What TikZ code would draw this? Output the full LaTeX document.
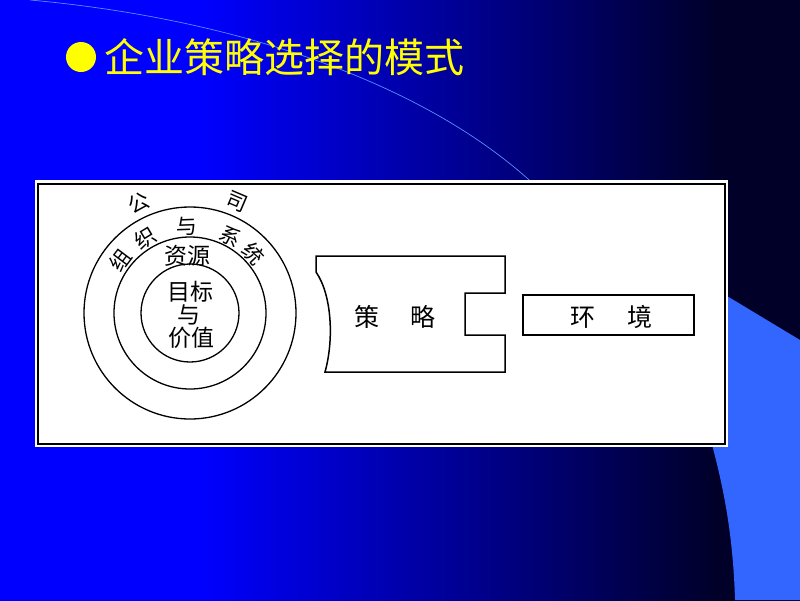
\documentclass[tikz,border=0pt]{standalone}
\usepackage{fontspec}
\newfontfamily\cjk{Noto Sans CJK SC}
\usetikzlibrary{positioning}

\definecolor{bgdark}{RGB}{0,0,40}
\definecolor{sidebar}{RGB}{51,102,255}
\definecolor{glint}{RGB}{90,140,255}
\definecolor{titleyellow}{RGB}{255,255,0}
\pgfdeclarehorizontalshading{slidebg}{100bp}{color(0bp)=(blue); color(37.5bp)=(blue); color(70bp)=(bgdark); color(100bp)=(bgdark)}

\begin{document}
\begin{tikzpicture}[x=1pt,y=-1pt,
every node/.style = {font=\cjk, inner sep=0pt},
ring/.style = {draw=black, line width=1.3pt},
frame/.style = {draw=black, line width=1.5pt},
ringlabel/.style = {font=\cjk\fontsize{23}{23}\selectfont},
arclabel/.style = {font=\cjk\fontsize{21}{21}\selectfont},
boxlabel/.style = {font=\cjk\fontsize{25}{25}\selectfont},
titletext/.style = {font=\cjk\fontsize{40}{40}\selectfont, text=titleyellow}]
\useasboundingbox (0,0) rectangle (800,600);
% slide background
\shade[shading=slidebg] (0,0) rectangle (800,600);
\fill[sidebar] (727,296) -- (800,340) -- (800,600) -- (735,600)
	.. controls (733,530) and (722,480) .. (708,430) -- cycle;
\draw[glint, line width=0.7pt] (30,0) .. controls (250,20) and (440,90) .. (545,195);
% title
\fill[titleyellow] (81,57) circle (15);
\node[titletext, anchor=west] (title) at (104,57) {企业策略选择的模式};
% picture frame
\fill[white] (35,180) rectangle (728,447);
\draw[frame] (38,184) rectangle (725,444);
% rings
\coordinate (core) at (190,313);
\draw[ring] (core) circle (106);
\draw[ring] (core) circle (76);
\draw[ring] (core) circle (49);
\node[ringlabel] (goal) at (190,292) {目标};
\node[ringlabel] (with) at (189,315) {与};
\node[ringlabel] (value) at (191,338) {价值};
\node[ringlabel] (resource) at (187,256) {资源};
\foreach \ch/\ang [count=\i] in {组/143, 织/121, 与/92, 系/62, 统/43}
	\node[arclabel, rotate=\ang-90] (org\i) at ([shift={(\ang:87pt)}]core) {\ch};
\foreach \ch/\ang [count=\i] in {公/115, 司/67}
	\node[arclabel, rotate=\ang-90] (firm\i) at ([shift={(\ang:121pt)}]core) {\ch};
% strategy and environment
\draw[frame] (316,256) -- (505,256) -- (505,293) -- (465,293) -- (465,335)
	-- (505,335) -- (505,372) -- (325,372)
	.. controls (334,340) and (332,295) .. (316,272) -- cycle;
\node[boxlabel] (strategy) at (395,317) {策\hspace{31pt}略};
\node[frame, draw, minimum width=171pt, minimum height=40pt] (env) at (608.5,315) {};
\node[boxlabel] (envlabel) at (611,317) {环\hspace{32pt}境};
\end{tikzpicture}
\end{document}
